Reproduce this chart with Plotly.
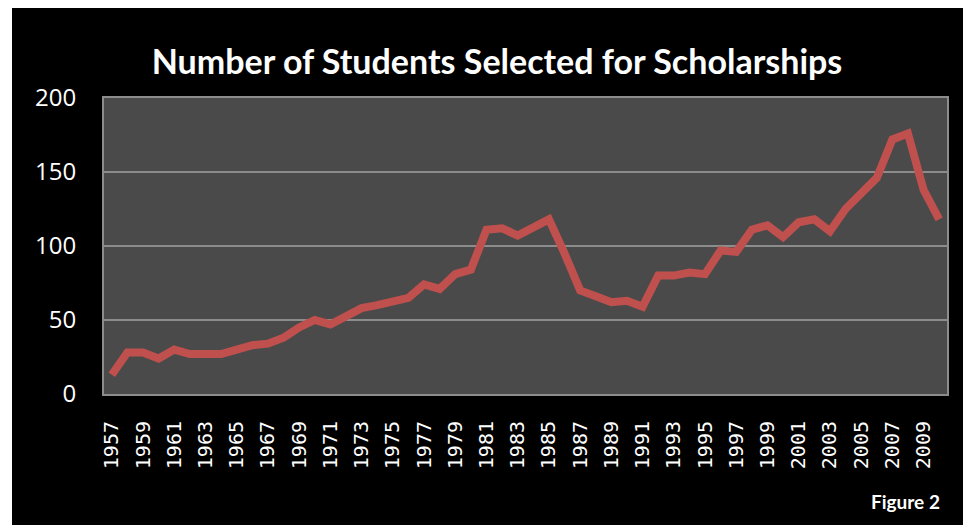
import plotly.graph_objects as go

years = [str(y) for y in range(1957, 2011)]
students = [13, 28, 28, 24, 30, 27, 27, 27, 30, 33, 34, 38, 45, 50, 47, 53, 58, 60,
            62, 65, 74, 71, 81, 84, 111, 112, 107, 113, 118, 95, 70, 66, 62, 63, 59, 80,
            80, 82, 81, 97, 96, 111, 114, 106, 116, 118, 110, 125, 136, 146, 172, 176,
            138, 118]
tick_years = [str(y) for y in range(1957, 2011, 2)]
y_ticks = [0, 50, 100, 150, 200]

title_text = "Number of Students Selected for Scholarships"
footer_text = "Figure 2"

fig = go.Figure()
fig.add_trace(go.Scatter(
    x=years, y=students, mode="lines",
    line=dict(color="rgb(192,80,77)", width=8),
    hoverinfo="x+y", showlegend=False,
))

# page body has an 8px margin; figure coordinates = screen - 8
OFF = 8
W, H = 971 - OFF, 525 - OFF
L, T = 104 - OFF, 98 - OFF
R = W - (947 - OFF)
B = H - (394 - OFF)
pw, ph = W - L - R, H - T - B


def px_to_paper(x, y):
    """screen pixel -> paper coords"""
    x, y = x - OFF, y - OFF
    return (x - L) / pw, (H - B - y) / ph


shapes = []
for (x0, y0, x1, y1) in [(OFF, OFF, 12, 525), (968, OFF, 971, 525)]:
    a0, b0 = px_to_paper(x0, y1)
    a1, b1 = px_to_paper(x1, y0)
    shapes.append(dict(type="rect", xref="paper", yref="paper", x0=a0, y0=b0, x1=a1, y1=b1,
                       fillcolor="white", line=dict(width=0), layer="above"))

fig.update_layout(
    width=W, height=H,
    margin=dict(l=L, r=R, t=T, b=B),
    paper_bgcolor="black",
    plot_bgcolor="rgb(74,74,74)",
    shapes=shapes,
    title=dict(text=title_text, x=(497 - OFF) / W, xanchor="center",
               y=1 - (62 - OFF) / H, yanchor="middle",
               font=dict(family="Lato", size=34, color="white", weight="bold")),
    annotations=[dict(text=footer_text, xref="paper", yref="paper",
                      x=px_to_paper(942, 0)[0], y=px_to_paper(0, 501)[1],
                      xanchor="right", yanchor="middle", showarrow=False,
                      font=dict(family="Lato", size=19, color="white", weight="bold"))],
    xaxis=dict(type="category", range=[-0.5, len(years) - 0.5],
               tickmode="array", tickvals=tick_years, ticktext=tick_years,
               tickangle=-90, ticks="", ticklabelstandoff=17,
               tickfont=dict(family="DejaVu Sans Mono", size=20, color="white"),
               showgrid=False, showline=True, mirror=True,
               linecolor="rgb(140,140,140)", linewidth=2, zeroline=False),
    yaxis=dict(range=[0, 200], tickmode="array", tickvals=y_ticks,
               ticks="", ticklabelstandoff=21,
               tickfont=dict(family="Open Sans", size=24, color="white"),
               showgrid=True, gridcolor="rgb(140,140,140)", gridwidth=2,
               showline=True, mirror=True, linecolor="rgb(140,140,140)", linewidth=2,
               zeroline=False),
)

fig.write_html("out.html")
